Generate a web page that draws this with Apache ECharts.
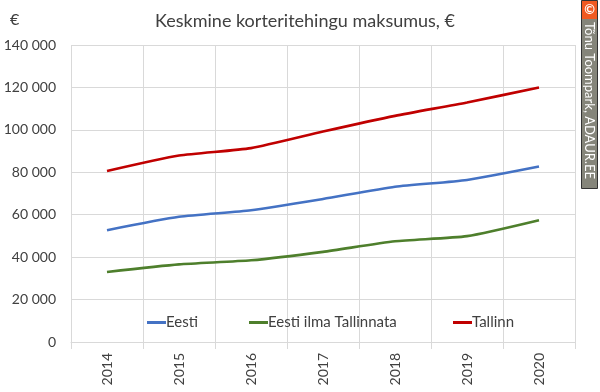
<!DOCTYPE html>
<html>
<head>
<meta charset="utf-8">
<script src="https://cdn.jsdelivr.net/npm/echarts@6/dist/echarts.min.js"></script>
<style>html,body{margin:0;padding:0;background:#fff}#c{width:600px;height:392px}</style>
</head>
<body>
<div id="c"></div>
<script>
const categories = ['2014','2015','2016','2017','2018','2019','2020'];
const eesti = [52700, 59000, 62100, 67400, 73200, 76400, 82700];
const eestiIlmaTallinnata = [33000, 36600, 38500, 42500, 47500, 49900, 57400];
const tallinn = [80600, 87900, 91400, 99200, 106600, 112900, 120000];
const seriesNames = ['Eesti', 'Eesti ilma Tallinnata', 'Tallinn'];
const titleText = 'Keskmine korteritehingu maksumus, €';
const unitText = '€';
const copyrightText = 'Tõnu Toompark, ADAUR.EE';

const FONT = 'Lato';
const chart = echarts.init(document.getElementById('c'), null, {renderer: 'canvas'});
const fmt = v => String(v).replace(/\B(?=(\d{3})+(?!\d))/g, ' ');
const mk = (name, data, color) => ({
  name, type: 'line', data, smooth: 0.2, symbol: 'none',
  lineStyle: {width: 2.6, color}, itemStyle: {color}
});
const legendAt = (name, left) => ({
  data: [name], left, top: 310, itemWidth: 19, itemHeight: 3, icon: 'rect',
  textStyle: {fontFamily: FONT, fontSize: 15, color: '#404040', padding: [0,0,0,-5]}
});
chart.setOption({
  animation: false,
  textStyle: {fontFamily: FONT},
  title: {text: titleText, left: 300, textAlign: 'center', top: 7,
    textStyle: {fontFamily: FONT, fontSize: 18, fontWeight: 'normal', color: '#404040'}},
  grid: {left: 71, right: 25, top: 45, bottom: 50},
  legend: [legendAt(seriesNames[0], 142), legendAt(seriesNames[1], 244), legendAt(seriesNames[2], 448)],
  xAxis: {
    type: 'category', data: categories, boundaryGap: true,
    axisLine: {show: true, lineStyle: {color: '#d9d9d9'}},
    axisTick: {show: true, length: 7, lineStyle: {color: '#d9d9d9'}},
    splitLine: {show: true, lineStyle: {color: '#d9d9d9', width: 1}},
    axisLabel: {rotate: 90, margin: 11, fontFamily: FONT, fontSize: 14, color: '#404040'}
  },
  yAxis: {
    type: 'value', min: 0, max: 140000, interval: 20000,
    axisLine: {show: false}, axisTick: {show: false},
    splitLine: {lineStyle: {color: '#d9d9d9', width: 1}},
    axisLabel: {formatter: fmt, margin: 15, fontFamily: FONT, fontSize: 14, color: '#404040'}
  },
  graphic: [
    {type: 'text', left: 10, top: 12, style: {text: unitText, font: '16px ' + FONT, fill: '#404040'}},
    {type: 'rect', shape: {x: 581.5, y: 0.5, width: 16, height: 188}, style: {fill: '#85857a', stroke: '#333', lineWidth: 1}},
    {type: 'rect', shape: {x: 582, y: 1, width: 15, height: 18}, style: {fill: '#f05a22'}},
    {type: 'text', x: 589.5, y: 10, style: {text: '©', font: 'bold 13px ' + FONT, fill: '#fff', align: 'center', verticalAlign: 'middle'}},
    {type: 'text', x: 589.5, y: 22, rotation: -Math.PI/2, originX: 0, originY: 0,
      style: {text: copyrightText, font: '13px ' + FONT, fill: '#fff', align: 'left', verticalAlign: 'middle'}}
  ],
  series: [
    mk(seriesNames[0], eesti, '#4472C4'),
    mk(seriesNames[1], eestiIlmaTallinnata, '#4E7F2C'),
    mk(seriesNames[2], tallinn, '#C00000')
  ]
});
</script>
</body>
</html>
